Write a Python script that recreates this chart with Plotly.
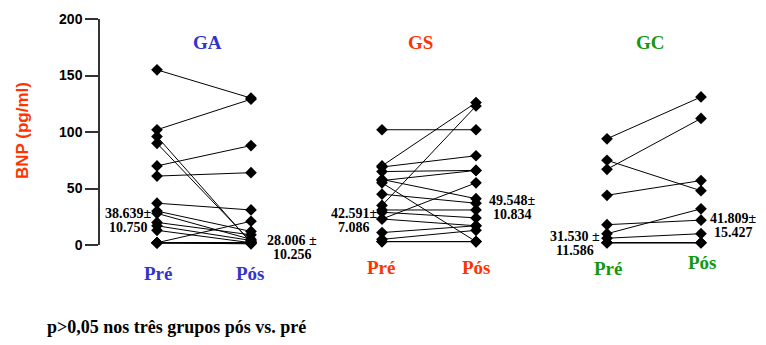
import plotly.graph_objects as go

# ---- data ----
groups = ["GA", "GS", "GC"]
time_labels = ["Pré", "Pós"]
group_colors = ["#3333cc", "#ff3300", "#119911"]

ga_pre = [155, 102, 96, 90, 70, 61, 37, 30, 28, 20, 17, 13, 2, 2, 2, 2, 2, 2, 2]
ga_pos = [130, 129, 2, 3, 88, 64, 31, 12, 5, 9, 4, 2, 21, 2, 1, 2, 2, 2, 2]

gs_pre = [102, 70, 69, 65, 58, 57, 55, 45, 35, 31, 29, 23, 23, 11, 5, 3, 3]
gs_pos = [102, 126, 79, 66, 41, 66, 3, 37, 123, 31, 24, 55, 17, 17, 13, 3, 3]

gc_pre = [94, 75, 67, 44, 18, 10, 6, 2, 2, 2]
gc_pos = [131, 48, 112, 57, 22, 32, 10, 2, 2, 2]

pre_stats = [("38.639±", "10.750"), ("42.591±", "7.086"), ("31.530 ±", "11.586")]
pos_stats = [("28.006 ±", "10.256"), ("49.548±", "10.834"), ("41.809±", "15.427")]

y_ticks = [0, 50, 100, 150, 200]

pre_series = [ga_pre, gs_pre, gc_pre]
pos_series = [ga_pos, gs_pos, gc_pos]

# ---- layout geometry (page pixels; the page body has an 8px margin) ----
BODY = 8
W, H = 766 - 2 * BODY, 345 - 2 * BODY
AX_LEFT, AX_TOP, AX_BOTTOM = 100, 19, 245          # page px
L = AX_LEFT - BODY
T = AX_TOP - BODY
B = H - (AX_BOTTOM - BODY)
plot_w = W - L
plot_h = H - T - B
PX_PER_UNIT = 94.0
FIRST_X = 157                                       # page px of first "Pré" column
x0 = (AX_LEFT - FIRST_X) / PX_PER_UNIT
x1 = x0 + plot_w / PX_PER_UNIT
GROUP_GAP = 225.0 / PX_PER_UNIT

SERIF = "Liberation Serif, Times New Roman, serif"
SANS = "Liberation Sans, Arial, sans-serif"


def px(xp, yp):
    """page pixel -> paper fraction"""
    return (xp - AX_LEFT) / plot_w, (AX_BOTTOM - yp) / plot_h


fig = go.Figure()

for g, (pre, pos) in enumerate(zip(pre_series, pos_series)):
    xp, xq = g * GROUP_GAP, g * GROUP_GAP + 1
    xs, ys = [], []
    for a, b in zip(pre, pos):
        xs += [xp, xq, None]
        ys += [a, b, None]
    fig.add_trace(go.Scatter(
        x=xs, y=ys, mode="lines+markers",
        line=dict(color="black", width=1),
        marker=dict(symbol="diamond", size=9, color="black"),
        showlegend=False, cliponaxis=False, hoverinfo="skip"))

ann = []


def add_text(xp, yp, text, font, xanchor="center", angle=0):
    x, y = px(xp, yp)
    ann.append(dict(x=x, y=y, xref="paper", yref="paper", text=text, showarrow=False,
                    xanchor=xanchor, yanchor="middle", textangle=angle, font=font))


title_pos = [(207, 42), (420, 42), (650, 42)]
pre_lab_pos = [(158, 273), (381, 267), (608, 268)]
pos_lab_pos = [(250, 273), (476, 267), (702, 263)]
pre_stat_pos = [(128, 213), (354, 213), (575, 236)]
pos_stat_pos = [(292, 240), (512, 200), (733, 218)]
LINE_PX = 14.5

for g in range(3):
    col = group_colors[g]
    add_text(*title_pos[g], f"<b>{groups[g]}</b>", dict(family=SERIF, size=19, color=col))
    add_text(*pre_lab_pos[g], f"<b>{time_labels[0]}</b>", dict(family=SERIF, size=19, color=col))
    add_text(*pos_lab_pos[g], f"<b>{time_labels[1]}</b>", dict(family=SERIF, size=19, color=col))
    for stats, (sx, sy) in ((pre_stats[g], pre_stat_pos[g]), (pos_stats[g], pos_stat_pos[g])):
        for i, line in enumerate(stats):
            add_text(sx, sy + i * LINE_PX, f"<b>{line}</b>", dict(family=SERIF, size=14, color="black"))

add_text(22, 131, "<b>BNP (pg/ml)</b>", dict(family=SANS, size=17, color="#ff3300"), angle=-90)
add_text(45, 327, "<b>p>0,05 nos três grupos pós vs. pré</b>",
         dict(family=SERIF, size=18, color="black"), xanchor="left")

fig.update_layout(
    width=W, height=H,
    margin=dict(l=L, r=0, t=T, b=B, pad=0, autoexpand=False),
    paper_bgcolor="white", plot_bgcolor="white",
    xaxis=dict(range=[x0, x1], visible=False, fixedrange=True),
    yaxis=dict(range=[0, 200], tickvals=y_ticks, ticktext=[f"<b>{v}</b>" for v in y_ticks],
               showline=True, linecolor="#333333", linewidth=1.5,
               ticks="outside", ticklen=13, tickwidth=1.5, tickcolor="#333333",
               showgrid=False, zeroline=False, automargin=False,
               tickfont=dict(family=SANS, size=14, color="black")),
    annotations=ann,
    showlegend=False,
)

fig.write_html("out.html")
